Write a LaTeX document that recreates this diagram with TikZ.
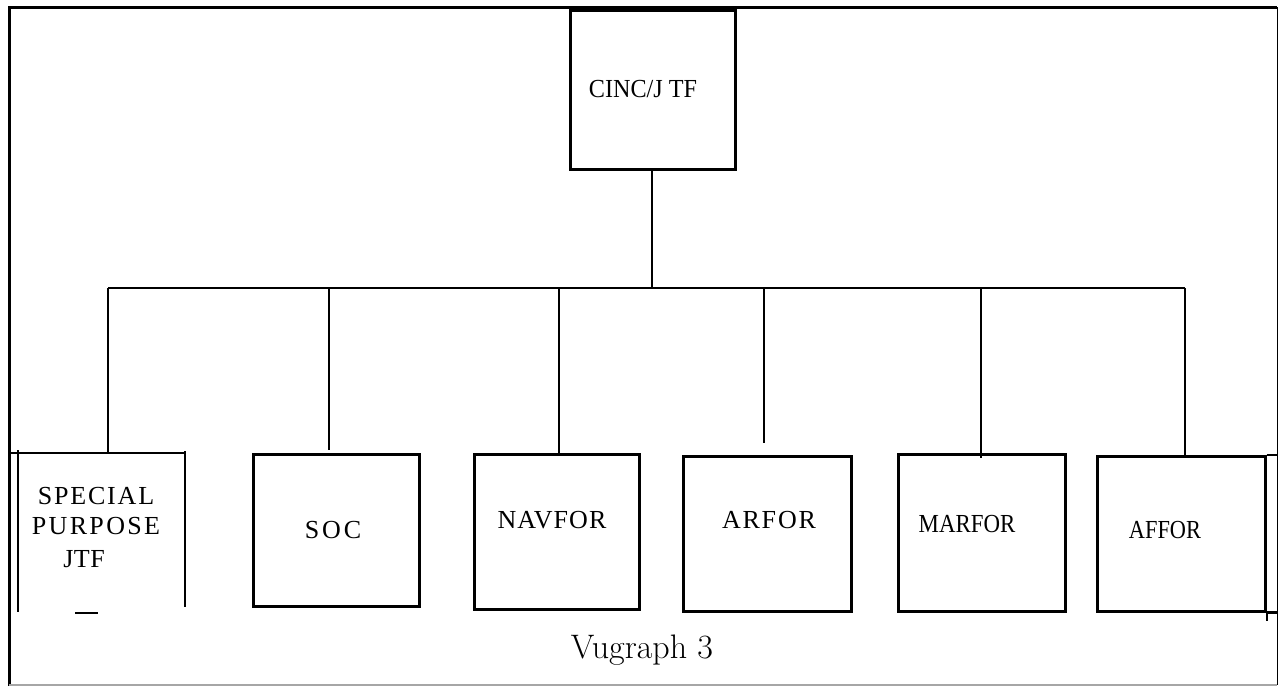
\documentclass[tikz,border=0pt]{standalone}
\usepackage{fontspec}
\newfontfamily\tms{Liberation Serif}
\newcommand{\lab}[1]{\tms\fontsize{26}{30}\selectfont\addfontfeature{#1}}
\begin{document}
\begin{tikzpicture}[x=1pt,y=-1pt,
  box/.style={draw, line width=2.6pt, anchor=north west, inner sep=0pt, minimum width=#1},
  box/.default=166pt,
  lbl/.style={anchor=base, inner sep=0pt},
  conn/.style={line width=2pt},
  frame/.style={line width=3pt}]
\useasboundingbox (0,0) rectangle (1278,686);
% frame
\coordinate (ftl) at (9,7);
\coordinate (ftr) at (1277,7);
\coordinate (fbl) at (9,686);
\draw[frame] (fbl) -- (ftl) -- (ftr);
\draw[line width=1pt] (ftr) -- (1277,685);
\draw[line width=1.2pt, gray!70] (9,685) -- (1277,685);
% top box
\node[box=165pt, minimum height=159pt] (cinc) at (569,9) {};
\node[lbl, font=\lab{FakeStretch=0.93}] (cinct) at (643,97) {CINC/J TF};
% special purpose (open box)
\node[inner sep=0pt, minimum width=167pt, minimum height=157pt, anchor=north west] (sp) at (18,453) {};
\draw[line width=2.4pt] (10,453) -- (sp.north east);
\draw[line width=2.4pt] (18,450) -- (18,612);
\draw[line width=2.6pt] (185,451) -- (185,607);
\draw[line width=2.4pt] (75,613) -- (98,613);
\node[lbl, font=\lab{LetterSpace=7}] (sp1) at (96,504) {SPECIAL};
\node[lbl, font=\lab{LetterSpace=9}] (sp2) at (96,534) {PURPOSE};
\node[lbl, font=\lab{LetterSpace=2}] (sp3) at (84,567) {JTF};
% other boxes
\node[box, minimum height=152pt] (soc) at (252,453) {};
\node[lbl, font=\lab{LetterSpace=11}] (soct) at (333,538) {SOC};
\node[box=165pt, minimum height=155pt] (nav) at (473,453) {};
\node[lbl, font=\lab{LetterSpace=4}] (navt) at (552,528) {NAVFOR};
\node[box=168pt, minimum height=155pt] (ar) at (682,455) {};
\node[lbl, font=\lab{LetterSpace=7}] (art) at (769,528) {ARFOR};
\node[box=167pt, minimum height=157pt] (mar) at (897,453) {};
\node[lbl, font=\lab{FakeStretch=0.88}] (mart) at (967,532) {MARFOR};
\node[box=168pt, minimum height=155pt] (af) at (1096,455) {};
\node[lbl, font=\lab{FakeStretch=0.86}] (aft) at (1165,538) {AFFOR};
\draw[line width=2.4pt] (af.north east) -- (af.north east -| ftr);
\draw[line width=2.4pt] (af.south east) -- (af.south east -| ftr);
\draw[line width=2pt] (af.south east) -- ++(0,8);
% connectors
\coordinate (bus) at (652,288);
\coordinate (b1) at (108,288);
\coordinate (b2) at (329,288);
\coordinate (b3) at (559,288);
\coordinate (b4) at (764,288);
\coordinate (b5) at (981,288);
\coordinate (b6) at (1185,288);
\draw[conn] (cinc.south -| bus) -- (bus);
\draw[conn] (b1) -- (b6);
\draw[conn] (b1) -- (b1 |- sp.north);
\draw[conn] (b2) -- ([yshift=3pt]b2 |- soc.north);
\draw[conn] (b3) -- (b3 |- nav.north);
\draw[conn] (b4) -- ([yshift=12pt]b4 |- ar.north);
\draw[conn] (b5) -- ([yshift=-5pt]b5 |- mar.north);
\draw[conn] (b6) -- (b6 |- af.north);
% caption
\node[anchor=base, inner sep=0pt, font=\fontsize{34}{40}\selectfont\addfontfeature{LetterSpace=11,FakeBold=0.6}] (cap) at (642,658) {Vugraph 3};
\end{tikzpicture}
\end{document}
